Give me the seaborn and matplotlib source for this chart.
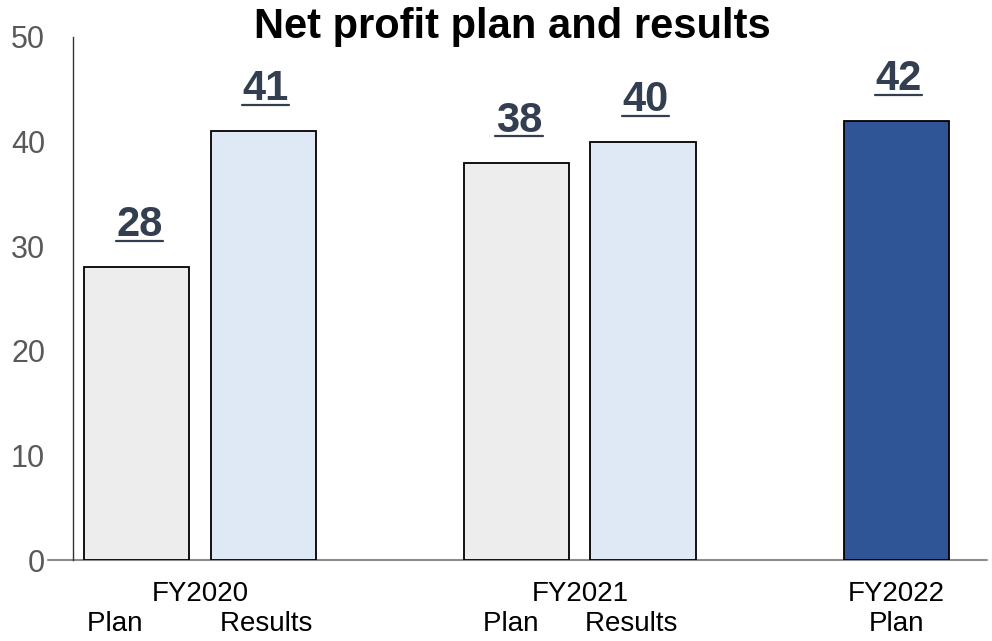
import matplotlib
matplotlib.use("Agg")
import matplotlib.pyplot as plt
from matplotlib.lines import Line2D
import seaborn as sns
import pandas as pd

# Net profit figures per fiscal year (plan vs. results)
positions = [0, 1, 3, 4, 6]
values = [28, 41, 38, 40, 42]
kinds = ["Plan 2020", "Results 2020", "Plan 2021", "Results 2021", "Plan 2022"]
bar_colors = ["#EDEDED", "#DEE9F5", "#EDEDED", "#DEE9F5", "#2F5597"]
group_ticks = [0.5, 3.5, 6]
group_labels = ["FY2020\nPlan          Results", "FY2021\nPlan      Results", "FY2022\nPlan"]
y_ticks = [0, 10, 20, 30, 40, 50]

df = pd.DataFrame({"pos": positions, "value": values, "kind": kinds})

sns.set_theme(style="white")
plt.rcParams["font.family"] = ["Liberation Sans", "DejaVu Sans"]

fig = plt.figure(figsize=(9.92, 6.41), dpi=100)
ax = fig.add_axes([73 / 992, 1 - 560 / 641, (987 - 73) / 992, (560 - 37) / 641])

sns.barplot(data=df, x="pos", y="value", hue="kind", palette=bar_colors,
            native_scale=True, width=0.833, dodge=False, legend=False,
            saturation=1, edgecolor="black", linewidth=1.3, ax=ax)

ax.set_xlim(-0.503, 6.716)
ax.set_ylim(0, 50)
ax.set_yticks(y_ticks)
ax.set_yticklabels([str(t) for t in y_ticks], fontsize=22, color="#595959")
ax.tick_params(axis="y", length=0, pad=20)
ax.set_xticks(group_ticks)
ax.set_xticklabels(group_labels, fontsize=20, color="black", linespacing=1.2)
ax.tick_params(axis="x", length=0, pad=15)
ax.set_xlabel("")
ax.set_ylabel("")

for side in ["top", "right", "bottom"]:
    ax.spines[side].set_visible(False)
ax.spines["left"].set_color("#333333")
ax.spines["left"].set_linewidth(1.0)

# baseline running under the bars and a little past the value axis
ax.add_line(Line2D([-25 / 914, 1], [0, 0], transform=ax.transAxes,
                   color="#8C8C8C", linewidth=1.5, clip_on=False, zorder=0.5))

# underlined value labels above each bar
for p, v in zip(positions, values):
    ax.text(p + 0.02, v + 2.96, str(v), ha="center", va="baseline",
            fontsize=30, fontweight="bold", color="#333F50")
    ax.add_line(Line2D([p + 0.02 - 0.186, p + 0.02 + 0.186], [v + 2.49, v + 2.49],
                       color="#333F50", linewidth=1.6, clip_on=False))

fig.text(512 / 992, 1 - 38 / 641, "Net profit plan and results", ha="center",
         va="baseline", fontsize=30, fontweight="bold", color="black")

fig.savefig("out.png", dpi=100)
